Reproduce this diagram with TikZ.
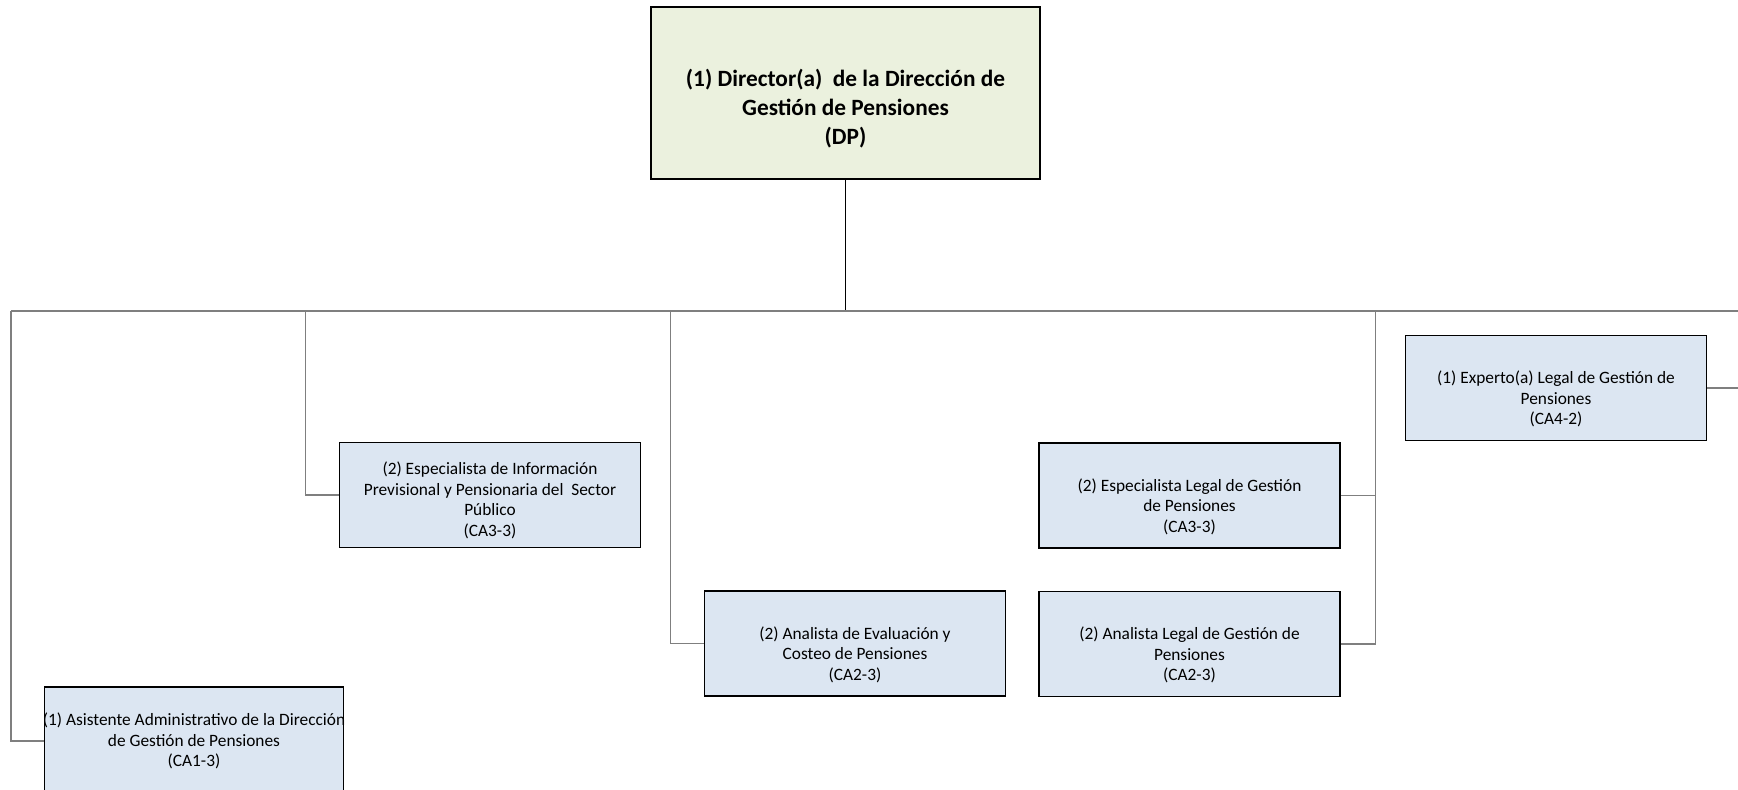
\documentclass[tikz,border=0pt]{standalone}
\usepackage{fontspec}
\setmainfont{Carlito}
\usepackage{xcolor}
\usetikzlibrary{positioning}

\definecolor{azulcaja}{HTML}{DCE6F2}
\definecolor{verdecaja}{HTML}{EBF1DE}
\definecolor{gris}{HTML}{7F7F7F}

\begin{document}
\begin{tikzpicture}[
    x=0.75pt, y=-0.75pt,
    every node/.style={draw=black, line width=1.3pt, align=center, inner sep=2pt},
    puesto/.style={fill=azulcaja, minimum width=225.75pt, minimum height=78.75pt, font=\fontsize{13}{15.4}\selectfont},
    jefe/.style={fill=verdecaja, minimum width=291.75pt, minimum height=129pt, font=\bfseries\fontsize{17.5}{21.7}\selectfont},
    conector/.style={draw=gris, line width=0.9pt},
    linea/.style={draw=black, line width=1pt}
]
\useasboundingbox (0,0) rectangle (1738,789);

% the \rule struts push the text a little below the middle of each box
\node[jefe] (dir) at (845.5,93) {\rule{0pt}{36pt}(1) Director(a)~ de la Dirección de\\Gestión de Pensiones\\(DP)};

\node[puesto, minimum width=224.25pt, minimum height=81pt] (asis) at (194,741) {\makebox[200pt]{(1) Asistente Administrativo de la Dirección}\\de Gestión de Pensiones\\(CA1-3)};
\node[puesto] (info) at (490,495) {\rule{0pt}{17.5pt}(2) Especialista de Información\\Previsional y Pensionaria del~ Sector\\Público\\(CA3-3)};
\node[puesto] (evalu) at (855,643.5) {\rule{0pt}{26pt}(2) Analista de Evaluación y\\Costeo de Pensiones\\(CA2-3)};
\node[puesto] (espleg) at (1189.5,495.5) {\rule{0pt}{26pt}(2) Especialista Legal de Gestión\\de Pensiones\\(CA3-3)};
\node[puesto] (analeg) at (1189.5,644) {\rule{0pt}{26pt}(2) Analista Legal de Gestión de\\Pensiones\\(CA2-3)};
\node[puesto] (experto) at (1556,388) {\rule{0pt}{26pt}(1) Experto(a) Legal de Gestión de\\Pensiones\\(CA4-2)};

% bus
\coordinate (bus) at (dir.south |- 0,311);
\coordinate (busizq) at (11,311);
\coordinate (busder) at (1738,311);
\draw[conector] (busizq) -- (busder);
\draw[linea] (dir.south) -- (bus);

% ramas
\draw[conector] (busizq) |- (asis.west);
\draw[conector] (info.west) -- ++(-33,0) |- (bus);
\draw[conector] (evalu.west) -- ++(-33.5,0) |- (bus);
\draw[conector] (analeg.east) -- ++(35,0) |- (bus);
\draw[conector] (espleg.east) -- ++(35,0);
\draw[conector] (experto.east) -- (experto.east -| busder);
\end{tikzpicture}
\end{document}
